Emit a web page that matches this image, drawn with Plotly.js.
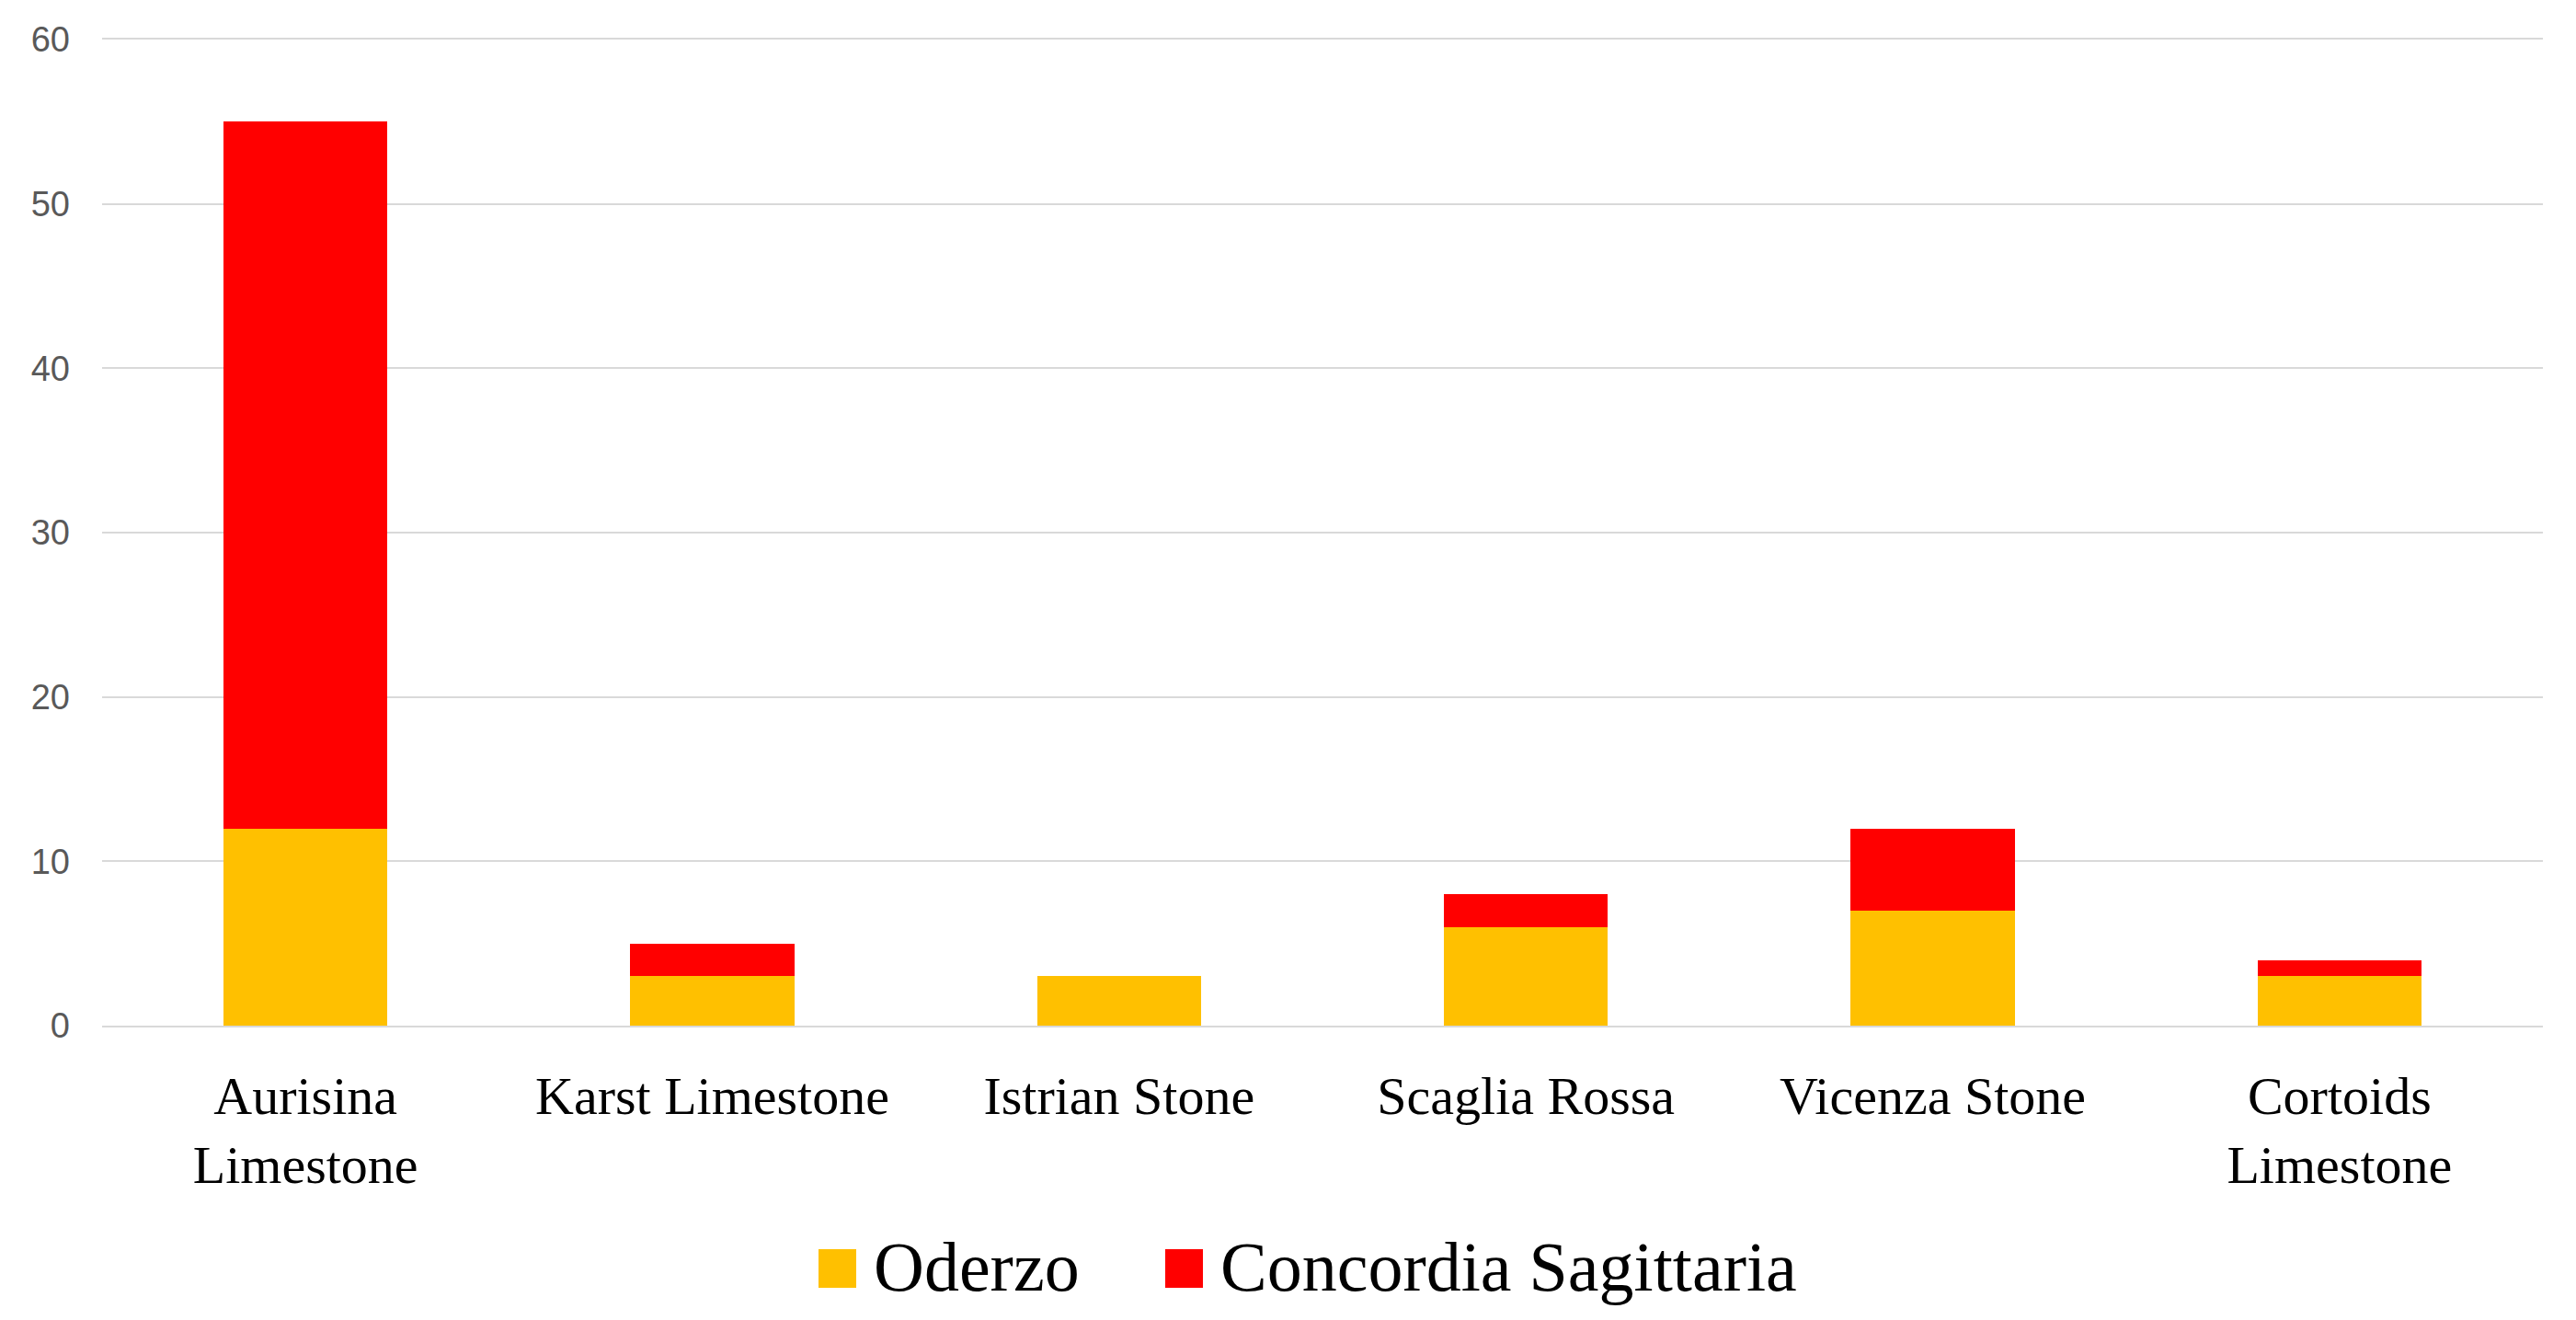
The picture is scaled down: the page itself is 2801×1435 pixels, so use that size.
<!DOCTYPE html>
<html>
<head>
<meta charset="utf-8">
<script src="https://cdn.plot.ly/plotly-3.0.1.min.js"></script>
<style>
html,body{margin:0;padding:0;background:#fff;}
#chart{width:2801px;height:1435px;}
</style>
</head>
<body>
<div id="chart"></div>
<script>
// ---- data ----
const categories = ["Aurisina<br>Limestone", "Karst Limestone", "Istrian Stone", "Scaglia Rossa", "Vicenza Stone", "Cortoids<br>Limestone"];
const seriesNames = ["Oderzo", "Concordia Sagittaria"];
const oderzo = [12, 3, 3, 6, 7, 3];
const concordia = [43, 2, 0, 2, 5, 1];
const yTickValues = [0, 10, 20, 30, 40, 50, 60];

// ---- style ----
const colors = ["#FFC000", "#FF0000"];
const serif = "Liberation Serif, Times New Roman, serif";
const gridColor = "#d9d9d9";

const traces = [
  {type: "bar", name: seriesNames[0], x: categories, y: oderzo, marker: {color: colors[0]}, showlegend: false, hoverinfo: "x+y+name"},
  {type: "bar", name: seriesNames[1], x: categories, y: concordia, marker: {color: colors[1]}, showlegend: false, hoverinfo: "x+y+name"}
];

// manual legend (large swatches like the reference)
const legendItems = [
  {swX0: 890, swX1: 931, textX: 948},
  {swX0: 1267, swX1: 1308, textX: 1325}
];
const shapes = [];
const annotations = [];
legendItems.forEach((it, i) => {
  shapes.push({type: "rect", xref: "paper", yref: "paper",
    x0: (it.swX0 - 111) / 2654, x1: (it.swX1 - 111) / 2654,
    y0: -(1400 - 1115) / 1072, y1: -(1358 - 1115) / 1072,
    fillcolor: colors[i], line: {width: 0}});
  annotations.push({xref: "paper", yref: "paper",
    x: (it.textX - 111) / 2654, y: -(1377 - 1115) / 1072,
    xanchor: "left", yanchor: "middle", showarrow: false,
    text: seriesNames[i], font: {family: serif, size: 76, color: "#000"}});
});

const layout = {
  width: 2801, height: 1435,
  margin: {l: 111, r: 36, t: 43, b: 320},
  paper_bgcolor: "#fff", plot_bgcolor: "#fff",
  barmode: "stack",
  bargap: 0.597,
  showlegend: false,
  xaxis: {
    type: "category",
    showgrid: false, zeroline: false,
    showline: true, mirror: true, linecolor: gridColor, linewidth: 2,
    ticks: "", ticklabelstandoff: 24,
    tickfont: {family: serif, size: 58, color: "#000"}
  },
  yaxis: {
    range: [0, 60], tickvals: yTickValues,
    showgrid: true, gridcolor: gridColor, gridwidth: 2,
    zeroline: false, showline: false, ticks: "",
    ticklabelstandoff: 34,
    tickfont: {family: "Liberation Sans, Arial, sans-serif", size: 38, color: "#595959"}
  },
  shapes: shapes,
  annotations: annotations
};

Plotly.newPlot("chart", traces, layout, {displayModeBar: false, staticPlot: true});
</script>
</body>
</html>
